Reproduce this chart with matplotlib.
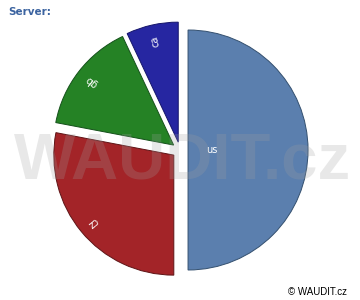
import numpy as np
import matplotlib
matplotlib.use('Agg')
import matplotlib.pyplot as plt

labels = ['us', 'cz', 'gb', 'ca']
values = [50, 28, 15, 7]
colors = ['#5b7fae', '#a32428', '#258225', '#2626a1']
edges = ['#34506f', '#5e1416', '#14501a', '#15156a']
label_dist = [0.2, 0.88, 0.87, 0.86]

fig = plt.figure(figsize=(3.6, 3.0), dpi=100)
ax = fig.add_axes([0, 0, 1, 1])
ax.set_xlim(-1.5, 1.5)
ax.set_ylim(-1.2417, 1.2583)
ax.set_aspect('equal')
ax.axis('off')

wedges, _ = ax.pie(values, colors=colors, startangle=90, counterclock=False,
                   explode=[0.067] * len(values), radius=1.0,
                   wedgeprops=dict(linewidth=0.7))
for w, ec in zip(wedges, edges):
    w.set_edgecolor(ec)

for w, lab, d in zip(wedges, labels, label_dist):
    thetam = (w.theta1 + w.theta2) / 2
    cx, cy = w.center
    x = cx + d * w.r * np.cos(np.deg2rad(thetam))
    y = cy + d * w.r * np.sin(np.deg2rad(thetam))
    ax.text(x, y, lab, color='white', fontsize=7, ha='center', va='center',
            rotation=thetam % 360, rotation_mode='anchor')

# watermark
fig.text(0.508, 0.462, 'WAUDIT.cz', fontsize=47, fontweight='bold',
         family='Liberation Sans', color='#a0a0a0', alpha=0.24,
         ha='center', va='center')

fig.text(8 / 360, 1 - 12 / 300, 'Server:', fontsize=7.5, fontweight='bold',
         color='#3b63a0', ha='left', va='center')
fig.text(347 / 360, 1 - 292 / 300, '\u00a9 WAUDIT.cz', fontsize=7,
         family='Liberation Sans', color='black', ha='right', va='center')

fig.savefig('out.png', dpi=100)
